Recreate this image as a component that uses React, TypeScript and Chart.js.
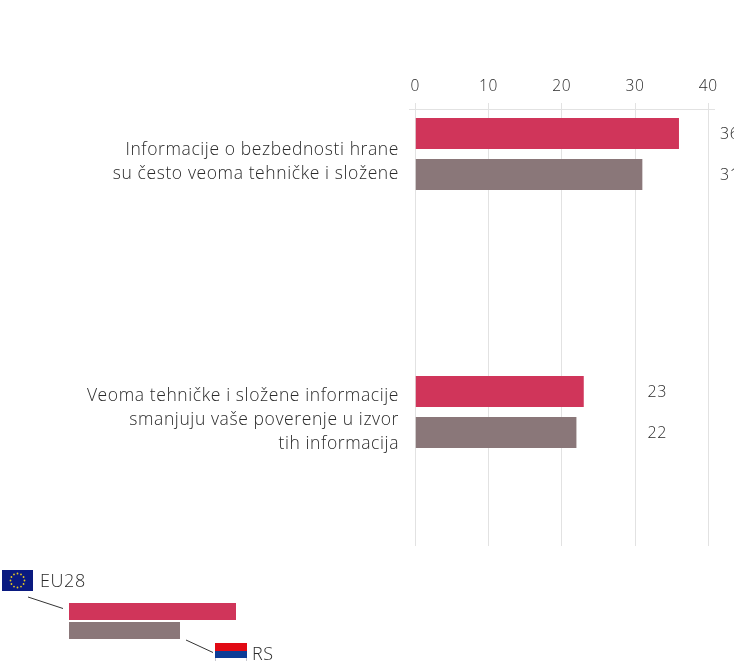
import React, { useEffect, useRef } from "react";
import { Chart, registerables } from "chart.js";

Chart.register(...registerables);

const categories: string[][] = [
  ["Informacije o bezbednosti hrane", "su često veoma tehničke i složene"],
  ["Veoma tehničke i složene informacije", "smanjuju vaše poverenje u izvor", "tih informacija"],
];
const eu28Values = [36, 23];
const rsValues = [31, 22];
const labelAnchors = [41.6, 31.7];
const xTicks = [0, 10, 20, 30, 40];
const legendNames = ["EU28", "RS"];

const RED = "#D0355A";
const GREY = "#8A7779";
const TEXT = "#2A2A2A";
const GRID = "#E2E2E2";
const FONT = "'Open Sans'";
const SPACING = "0.6px";

const spacingPlugin = {
  id: "letterSpacing",
  beforeLayout(chart: any) {
    chart.ctx.letterSpacing = SPACING;
  },
  beforeDraw(chart: any) {
    chart.ctx.letterSpacing = SPACING;
  },
};

const labelsPlugin = {
  id: "valueLabels",
  afterDraw(chart: any) {
    const { ctx, scales } = chart;
    ctx.save();
    ctx.fillStyle = TEXT;
    ctx.font = `300 16px ${FONT}`;
    ctx.textAlign = "left";
    ctx.textBaseline = "middle";
    [eu28Values, rsValues].forEach((series, s) => {
      series.forEach((v, i) => {
        const meta = chart.getDatasetMeta(s).data[i];
        ctx.fillText(String(v), scales.x.getPixelForValue(labelAnchors[i]), meta.y + 0.5);
      });
    });
    ctx.restore();
  },
};

const legendPlugin = {
  id: "flagLegend",
  afterDraw(chart: any) {
    const { ctx } = chart;
    ctx.save();
    // EU flag
    ctx.fillStyle = "#0A1A80";
    ctx.fillRect(2, 570, 31, 21);
    ctx.fillStyle = "#E8C820";
    for (let i = 0; i < 12; i++) {
      const a = (i / 12) * Math.PI * 2;
      ctx.beginPath();
      ctx.arc(17.5 + Math.cos(a) * 7, 580.5 + Math.sin(a) * 7, 0.9, 0, Math.PI * 2);
      ctx.fill();
    }
    // RS flag
    ctx.fillStyle = "#E10A14";
    ctx.fillRect(215, 643, 32, 8);
    ctx.fillStyle = "#0C3C96";
    ctx.fillRect(215, 651, 32, 7);
    ctx.fillStyle = "#FFFFFF";
    ctx.fillRect(215, 658, 32, 3);
    ctx.strokeStyle = "#C8C8D0";
    ctx.lineWidth = 1;
    ctx.beginPath();
    ctx.moveTo(215.5, 658);
    ctx.lineTo(215.5, 661);
    ctx.moveTo(246.5, 658);
    ctx.lineTo(246.5, 661);
    ctx.stroke();
    // key bars
    ctx.fillStyle = RED;
    ctx.fillRect(69, 603, 167, 17);
    ctx.fillStyle = GREY;
    ctx.fillRect(69, 622, 111, 17);
    // leader lines
    ctx.strokeStyle = "#333333";
    ctx.lineWidth = 1;
    ctx.beginPath();
    ctx.moveTo(28, 597);
    ctx.lineTo(63, 608.5);
    ctx.moveTo(186, 640);
    ctx.lineTo(213, 652.5);
    ctx.stroke();
    // names
    ctx.fillStyle = TEXT;
    ctx.font = `300 18px ${FONT}`;
    ctx.textAlign = "left";
    ctx.textBaseline = "middle";
    ctx.fillText(legendNames[0], 40, 582);
    ctx.fillText(legendNames[1], 252, 655);
    ctx.restore();
  },
};

export default function App() {
  const ref = useRef<HTMLCanvasElement>(null);
  useEffect(() => {
    document.body.style.margin = "0";
    const chart = new Chart(ref.current as HTMLCanvasElement, {
      type: "bar",
      data: {
        datasets: [
          {
            label: legendNames[0],
            data: eu28Values.map((x, y) => ({ x, y })),
            backgroundColor: RED,
          },
          {
            label: legendNames[1],
            data: rsValues.map((x, y) => ({ x, y })),
            backgroundColor: GREY,
          },
        ],
      } as any,
      options: {
        indexAxis: "y",
        animation: false,
        responsive: false,
        datasets: { bar: { categoryPercentage: 0.318, barPercentage: 0.756 } },
        layout: { padding: { left: 0, right: 19.5, top: 0, bottom: 115 } },
        plugins: { legend: { display: false }, tooltip: { enabled: false } },
        scales: {
          x: {
            type: "linear",
            position: "top",
            min: -0.79,
            max: 40.85,
            afterFit: (s: any) => {
              s.height = 109;
            },
            afterBuildTicks: (s: any) => {
              s.ticks = xTicks.map((value) => ({ value }));
            },
            grid: { color: GRID, tickLength: 6, tickColor: GRID },
            border: { display: true, color: GRID },
            ticks: {
              color: TEXT,
              padding: 7,
              maxRotation: 0,
              autoSkip: false,
              font: { family: FONT, size: 15.5, weight: "300" },
            },
          },
          y: {
            type: "linear",
            display: false,
            reverse: true,
            offset: false,
            min: -0.1744,
            max: 1.5194,
            ticks: { stepSize: 1, includeBounds: false },
          },
          y2: {
            type: "linear",
            position: "left",
            reverse: true,
            offset: false,
            min: -0.2062,
            max: 1.4876,
            afterFit: (s: any) => {
              s.width = 409.5;
            },
            grid: { display: false, drawTicks: false },
            border: { display: false },
            ticks: {
              stepSize: 1,
              includeBounds: false,
              autoSkip: false,
              padding: 10.5,
              color: TEXT,
              font: { family: FONT, size: 17.5, weight: "300", lineHeight: 1.37 },
              callback: (v: any) => categories[v as number] ?? "",
            },
          },
        },
      } as any,
      plugins: [spacingPlugin, labelsPlugin, legendPlugin],
    });
    return () => chart.destroy();
  }, []);
  return <canvas ref={ref} width={734} height={661} style={{ display: "block" }} />;
}
